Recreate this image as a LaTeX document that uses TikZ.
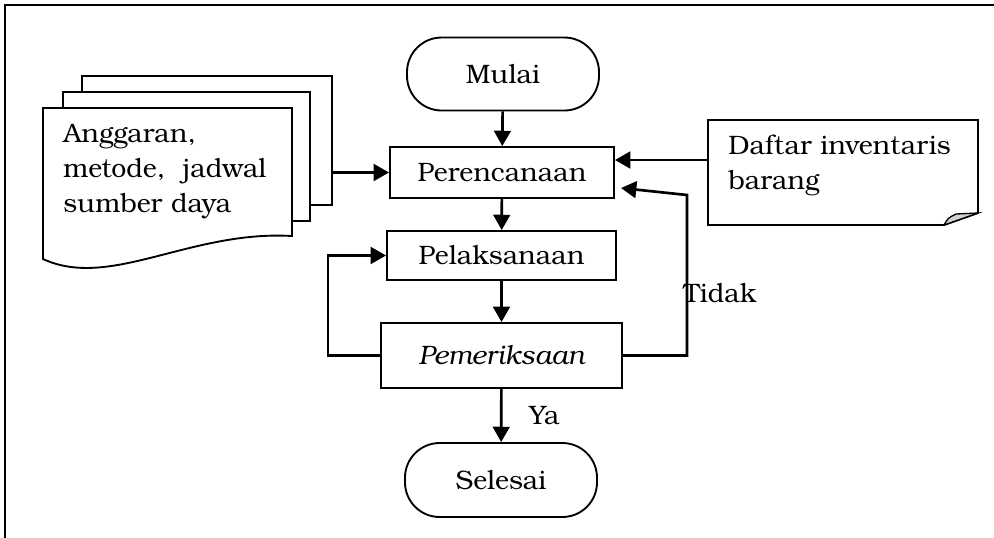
\documentclass[tikz,border=0pt]{standalone}
\usepackage{fontspec}
\setmainfont{texgyrebonum}[Extension=.otf, UprightFont=*-regular, ItalicFont=*-italic, BoldFont=*-bold, BoldItalicFont=*-bolditalic]
\usetikzlibrary{arrows.meta}
\begin{document}
\begin{tikzpicture}[x=0.75pt,y=-0.75pt,
  every node/.style={font=\fontsize{20}{26.25}\selectfont},
  box/.style={draw, line width=1.4pt, inner sep=0pt, fill=white},
  term/.style={box, rounded corners=26pt},
  doc/.style={draw, line width=1.4pt, fill=white},
  arr/.style={line width=2pt, -{Triangle[length=11.5pt,width=12.5pt]}},
  lbl/.style={anchor=west, inner sep=0pt}]

% canvas and page frame
\fill[white] (0,0) rectangle (994,537);
\useasboundingbox (0,0) rectangle (994,537);
\draw[line width=1.3pt] (5,540) -- (5,5) -- (1000,5);

% main flow
\node[term, minimum width=144pt, minimum height=54.75pt] (mulai) at (503,74) {Mulai};
\node[box, minimum width=168pt, minimum height=38.25pt] (per) at (502,172.5) {Perencanaan};
\node[box, minimum width=171.75pt, minimum height=36.75pt] (pel) at (501.5,255.5) {Pelaksanaan};
\node[box, minimum width=180.75pt, minimum height=48.75pt] (pem) at (501.5,355.5) {\itshape Pemeriksaan};
\node[term, minimum width=144pt, minimum height=55.5pt] (selesai) at (501,480) {Selesai};

% stacked documents (inputs)
\node[doc, minimum width=187.5pt, minimum height=96.75pt, inner sep=0pt] (doc3) at (207,140.5) {};
\node[doc, minimum width=185.25pt, minimum height=96.75pt, inner sep=0pt] (doc2) at (186.5,156.5) {};
\draw[doc] (43,108) -- (292,108) -- (292,236)
  .. controls (190,230) and (110,290) .. (43,259) -- cycle;
\node[lbl, align=left] (docs) at (63,172) {Anggaran,\\metode,\ \ jadwal\\sumber daya};

% inventory document with folded corner
\draw[line width=1.4pt, fill=white] (708,120) -- (978,120)
  -- (978,213) -- (944,225) -- (708,225) -- cycle;
\filldraw[line width=1pt, fill=gray!35] (944,225) .. controls (948,218) .. (956,214)
  -- (978,213) -- cycle;
\coordinate (daftar) at (708,160);
\node[lbl, align=left] (daftartxt) at (728,165) {Daftar inventaris\\barang};

% connectors
\draw[arr] (mulai) -- (per);
\draw[arr] (per) -- (pel);
\draw[arr] (pel) -- (pem);
\draw[arr] (pem) -- (selesai) node[pos=0.5, right=20pt, inner sep=0pt] (ya) {Ya};
\draw[arr] (doc3.east |- per.west) -- (per.west);
\draw[arr] (daftar) -- (daftar -| per.east);
\draw[arr] (pem.west) -- ++(-52,0) |- (pel.west);
\coordinate (rc) at (687,195);
\coordinate (back) at (621,188);
\draw[arr] (pem.east) -| (rc) -- (back);
\node[lbl] (tidak) at (683,293) {Tidak};

\end{tikzpicture}
\end{document}
